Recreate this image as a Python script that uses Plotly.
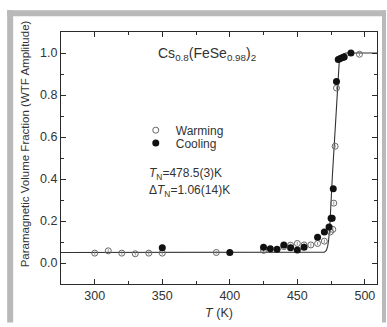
import plotly.graph_objects as go

# ---- data ----
warm_T = [300, 310, 320, 330, 340, 350, 390, 425, 440, 445, 450, 455, 460, 465, 470, 474.5, 476.3, 477, 478, 479, 496]
warm_y = [0.047, 0.058, 0.047, 0.044, 0.047, 0.047, 0.05, 0.06, 0.078, 0.085, 0.093, 0.086, 0.086, 0.093, 0.104, 0.148, 0.16, 0.285, 0.556, 0.833, 0.994]
warm_err = [0.008] * len(warm_T)

cool_T = [350, 400, 425, 430, 435, 440, 445, 450, 455, 465, 470, 473.5, 475, 475.8, 476.6, 479, 480.3, 481.8, 483.5, 484.7, 489.7]
cool_y = [0.073, 0.05, 0.075, 0.068, 0.065, 0.086, 0.073, 0.062, 0.075, 0.123, 0.148, 0.171, 0.213, 0.213, 0.353, 0.864, 0.969, 0.974, 0.978, 0.981, 1.0]

fit_T = [275, 468, 470, 471.5, 472.5, 473.2, 474, 476, 478, 480, 481, 482, 484, 486, 510]
fit_y = [0.05, 0.05, 0.052, 0.06, 0.08, 0.11, 0.17, 0.42, 0.66, 0.9, 0.955, 0.98, 0.995, 1.0, 1.0]

x_range = [275, 509]
y_range = [-0.1, 1.1]
x_ticks = [300, 350, 400, 450, 500]
y_ticks = [0.0, 0.2, 0.4, 0.6, 0.8, 1.0]

W, H = 387, 327
L, R, T, B = 61, 9, 32, 39
PW, PH = W - L - R, H - T - B


def px(x):
    return (x - L) / PW


def py(y):
    return (H - B - y) / PH


FONT = "Liberation Sans, Arial, sans-serif"
INK = "#2a2a2a"

fig = go.Figure()
fig.add_trace(go.Scatter(x=fit_T, y=fit_y, mode="lines", line=dict(color="#333", width=1.1),
                         showlegend=False, hoverinfo="skip"))
fig.add_trace(go.Scatter(x=warm_T, y=warm_y, mode="markers", name="Warming", legend="legend",
                         marker=dict(symbol="circle-open", size=6, color="#666", line=dict(width=1, color="#666")),
                         error_y=dict(type="data", array=warm_err, visible=True, width=0, thickness=0.8, color="#777")))
fig.add_trace(go.Scatter(x=cool_T, y=cool_y, mode="markers", name="Cooling", legend="legend2",
                         marker=dict(symbol="circle", size=7, color="#111")))

axis_common = dict(showline=True, linecolor=INK, linewidth=1, mirror="ticks", ticks="inside",
                   ticklen=5, tickwidth=1, tickcolor=INK, showgrid=False, zeroline=False,
                   tickfont=dict(family=FONT, size=12.5, color="#333"))

fig.update_xaxes(range=x_range, tickvals=x_ticks,
                 minor=dict(dtick=25, tick0=275, ticks="inside", ticklen=3, tickcolor=INK),
                 title=dict(text="<i>T</i> (K)", font=dict(family=FONT, size=12.5, color="#333"), standoff=6),
                 **axis_common)
fig.update_yaxes(range=y_range, tickvals=y_ticks, tickformat=".1f",
                 minor=dict(dtick=0.1, tick0=0, ticks="inside", ticklen=3, tickcolor=INK),
                 **axis_common)

gray = "#b9b9b9"
shapes = [
    dict(type="rect", xref="paper", yref="paper", x0=px(7), x1=px(387), y0=py(16), y1=py(10),
         fillcolor=gray, line=dict(width=0), layer="below"),
    dict(type="rect", xref="paper", yref="paper", x0=px(7), x1=px(13), y0=py(327), y1=py(10),
         fillcolor=gray, line=dict(width=0), layer="below"),
    dict(type="rect", xref="paper", yref="paper", x0=px(383), x1=px(387), y0=py(327), y1=py(10),
         fillcolor=gray, line=dict(width=0), layer="below"),
]

annotations = [
    dict(text="Paramagnetic Volume Fraction (WTF Amplitude)", xref="paper", yref="paper",
         x=px(25), y=py(146), xanchor="center", yanchor="middle", textangle=-90, showarrow=False,
         font=dict(family=FONT, size=11.5, color="#333")),
    dict(text="Cs<sub>0.8</sub>(FeSe<sub>0.98</sub>)<sub>2</sub>", xref="paper", yref="paper",
         x=px(207), y=py(54), xanchor="center", yanchor="middle", showarrow=False,
         font=dict(family=FONT, size=14, color="#333")),
    dict(text="<i>T</i><sub>N</sub>=478.5(3)K", xref="paper", yref="paper",
         x=px(147), y=py(176), xanchor="left", yanchor="middle", showarrow=False,
         font=dict(family=FONT, size=12, color="#333")),
    dict(text="Δ<i>T</i><sub>N</sub>=1.06(14)K", xref="paper", yref="paper",
         x=px(147), y=py(194), xanchor="left", yanchor="middle", showarrow=False,
         font=dict(family=FONT, size=12, color="#333")),
]

leg_common = dict(xanchor="left", yanchor="top", bgcolor="rgba(0,0,0,0)",
                  font=dict(family=FONT, size=12, color="#333"), itemwidth=30)

fig.update_layout(
    width=W, height=H, margin=dict(l=L, r=R, t=T, b=B),
    paper_bgcolor="white", plot_bgcolor="white",
    shapes=shapes, annotations=annotations,
    legend=dict(x=px(136), y=py(117), **leg_common),
    legend2=dict(x=px(136), y=py(130), **leg_common),
    font=dict(family=FONT),
)

fig.write_html("out.html", config={"displayModeBar": False},
               post_script="document.body.style.margin='0';document.body.style.padding='0';")
